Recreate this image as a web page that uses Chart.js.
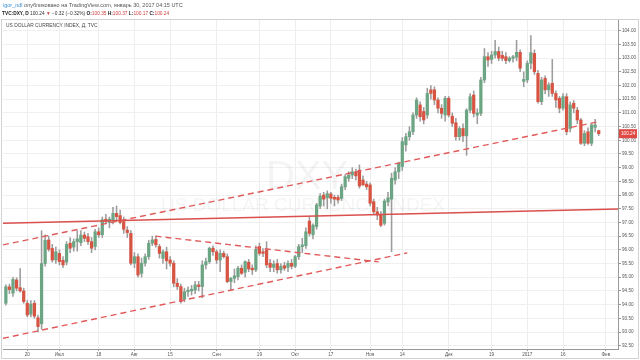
<!DOCTYPE html>
<html>
<head>
<meta charset="utf-8">
<script src="https://cdn.jsdelivr.net/npm/chart.js@4.4.1/dist/chart.umd.min.js"></script>
<style>
html,body{margin:0;padding:0;background:#fff;}
canvas{display:block;}
</style>
</head>
<body>
<canvas id="c" width="640" height="360"></canvas>
<script>
// ---- DATA (daily candles, index 0 = 10 Jun 2016 ... index 166 = 30 Jan 2017) ----
const opens = [94.05,94.65,94.42,94.90,94.62,94.50,94.05,93.65,94.05,93.52,
93.30,95.50,96.36,96.05,95.63,95.87,95.62,95.55,96.24,96.10,
96.30,96.26,96.54,96.48,96.30,96.12,96.66,96.55,97.12,97.00,
97.10,97.33,97.25,97.03,96.72,96.60,95.51,95.75,95.14,95.51,
95.75,96.24,96.38,96.12,95.69,95.93,95.63,95.51,94.78,94.66,
94.20,94.47,94.50,94.53,94.72,94.66,95.45,95.57,96.06,95.93,
95.63,95.87,95.75,94.84,94.96,95.02,95.33,95.18,95.55,95.33,
95.27,96.12,95.93,95.99,95.51,95.36,95.50,95.27,95.42,95.36,
95.51,95.40,95.75,96.12,96.15,97.05,96.55,96.85,97.60,98.00,
97.90,98.04,97.92,97.92,97.88,98.30,98.61,98.73,98.85,98.91,
98.55,98.40,98.37,97.76,97.39,97.27,96.97,97.75,97.85,98.55,
98.85,99.04,99.83,100.13,100.31,100.92,101.29,101.05,100.92,101.84,
101.84,101.47,101.17,100.92,101.53,100.88,100.64,100.13,100.43,100.16,
101.10,101.65,100.92,100.98,102.20,103.05,102.95,103.11,103.24,103.10,
103.05,102.91,102.99,103.03,103.21,102.15,102.20,102.81,103.17,102.44,
101.41,102.26,101.84,102.08,101.71,101.53,101.17,101.59,100.43,101.35,
101.10,100.74,99.89,100.31,99.89,100.47,100.35];
const highs = [94.72,94.75,95.00,94.98,95.32,94.60,94.15,94.15,94.15,93.62,
96.70,96.55,96.50,96.20,96.10,96.00,95.75,96.30,96.45,96.40,
96.70,96.70,96.65,96.60,96.45,96.75,96.80,97.20,97.30,97.20,
97.55,97.60,97.45,97.20,96.85,96.70,95.90,95.85,95.70,95.85,
96.35,96.50,96.50,96.20,96.00,96.10,95.75,95.60,94.95,94.75,
94.60,94.65,94.70,94.85,94.85,95.60,95.70,96.10,96.15,96.00,
96.00,95.95,95.85,95.00,95.30,95.40,95.45,95.60,95.65,95.45,
96.15,96.25,96.05,96.30,95.65,95.60,95.65,95.50,95.55,95.60,
95.65,95.80,96.20,96.42,96.80,97.20,96.95,97.70,98.05,98.10,
98.15,98.10,98.00,98.00,98.40,98.75,98.85,99.00,98.95,99.10,
98.70,98.50,98.45,97.85,97.55,97.40,97.85,98.10,98.80,99.00,
99.20,100.10,100.25,100.50,101.00,101.55,101.40,101.20,101.90,102.00,
101.95,101.55,101.30,101.60,101.60,101.00,100.80,100.50,100.60,101.15,
101.70,101.80,101.15,102.30,103.35,103.20,103.25,103.65,103.40,103.25,
103.20,103.05,103.10,103.65,103.30,102.50,102.90,103.82,103.30,102.55,
102.30,102.35,102.10,102.95,101.80,101.60,101.70,101.70,101.40,101.45,
101.20,100.80,100.35,100.45,100.60,100.76,100.37];
const lows = [93.98,94.40,94.30,94.50,94.45,94.05,93.55,93.55,93.50,93.00,
93.10,95.40,95.95,95.55,95.50,95.45,95.35,95.45,95.90,95.95,
95.95,96.15,96.30,96.20,95.90,96.00,96.45,96.45,96.95,96.80,
96.95,97.10,96.95,96.60,96.45,95.45,95.35,95.00,95.00,95.40,
95.65,96.15,96.10,95.70,95.50,95.30,95.40,94.65,94.55,94.05,
94.10,94.30,94.35,94.40,94.50,94.25,95.30,95.50,95.80,95.50,
95.20,95.70,94.80,94.55,94.80,94.90,95.10,95.00,95.20,95.10,
95.20,95.80,95.75,95.35,95.20,95.20,95.15,95.15,95.25,95.20,
95.30,95.35,95.65,95.90,96.05,96.50,96.40,96.75,97.50,97.60,
97.50,97.70,97.60,97.70,97.80,98.20,98.50,98.60,98.55,98.25,
98.35,98.20,97.60,97.30,97.10,96.85,96.90,97.60,95.93,98.40,
98.60,98.90,99.60,100.00,100.20,100.80,100.70,100.60,100.80,101.50,
101.30,101.00,100.80,100.70,100.85,100.50,100.00,100.00,99.95,99.45,
101.00,100.85,100.60,100.90,102.10,102.70,102.80,103.00,102.90,102.90,
102.80,102.85,102.85,102.90,102.50,101.95,102.10,102.60,102.40,101.35,
101.30,101.70,101.60,101.60,101.20,101.00,101.10,100.20,100.30,101.00,
100.60,99.85,99.80,99.85,99.80,100.30,100.17];
const closes = [94.65,94.55,94.92,94.60,94.50,94.11,93.62,94.02,93.58,93.20,
95.50,96.35,96.02,95.63,95.93,95.57,95.45,96.20,96.06,96.30,
96.40,96.54,96.42,96.30,96.06,96.66,96.55,97.10,97.03,97.12,
97.33,97.21,97.00,96.75,96.63,95.51,95.75,95.08,95.51,95.75,
96.24,96.36,96.18,95.87,95.93,95.60,95.51,94.78,94.66,94.11,
94.47,94.53,94.56,94.72,94.66,95.45,95.57,96.06,95.93,95.63,
95.87,95.75,94.84,94.96,95.05,95.33,95.14,95.57,95.30,95.27,
96.02,95.87,95.87,95.45,95.36,95.48,95.27,95.40,95.33,95.51,
95.40,95.75,96.12,96.18,96.66,96.60,96.90,97.64,97.96,97.85,
98.05,97.88,97.85,97.82,98.30,98.67,98.73,98.85,98.70,98.33,
98.37,98.30,97.70,97.39,97.27,96.90,97.78,97.90,98.61,98.85,
99.16,99.95,100.13,100.31,100.92,101.47,100.86,100.74,101.71,101.71,
101.47,101.17,100.98,101.53,100.92,100.62,100.13,100.43,100.16,101.10,
101.59,100.98,101.00,102.20,103.05,102.93,103.11,103.24,103.00,102.99,
102.91,103.00,103.05,103.21,102.63,102.22,102.81,103.20,102.50,101.41,
102.20,101.84,102.02,101.71,101.47,101.17,101.59,100.31,101.29,101.17,
100.74,99.89,100.25,99.89,100.56,100.56,100.24];

// trend lines: [barIndex, value]
const solidLine     = [[-0.8, 96.97], [171.4, 97.49]];
const upperChannel  = [[-0.8, 96.18], [166.0, 100.68]];
const lowerChannel  = [[-0.8, 92.77], [112.4, 95.89]];
const wedgeTop      = [[41.9, 96.50], [104.4, 95.56]];

// axis ticks
const xTickIdx    = [6, 15, 26, 36, 46, 59, 71, 81, 91, 102, 111, 124, 136, 146, 156, 168];
const xTickLabels = ['20','Июл','18','Авг','15','Сен','19','Окт','17','Ноя','14','Дек','19','2017','16','Фев'];
const yTickValues = [92.5,93,93.5,94,94.5,95,95.5,96,96.5,97,97.5,98,98.5,99,99.5,100,100.5,101,101.5,102,102.5,103,103.5,104];
const lastPrice = 100.24;

// ---- CHART ----
const FONT = '"Liberation Sans", Arial, sans-serif';
const UP = '#6ba583', DOWN = '#d75442', WICK = '#9c9c9c', LINE = '#e05a5a';
const bars = opens.map((_, i) => i);
const wickData = bars.map(i => ({x: i, y: [lows[i], highs[i]]}));
const bodyData = bars.map(i => ({x: i, y: [opens[i], closes[i]]}));
const bodyColors = bars.map(i => closes[i] >= opens[i] ? UP : DOWN);
const toPts = arr => arr.map(([x, y]) => ({x, y}));

const decor = {
  id: 'decor',
  beforeDraw(chart) {
    const c = chart.ctx;
    c.save(); c.fillStyle = '#fff'; c.fillRect(0, 0, chart.width, chart.height); c.restore();
  },
  beforeDatasetsDraw(chart) {
    const c = chart.ctx, a = chart.chartArea;
    c.save();
    c.beginPath(); c.rect(a.left, a.top, a.right - a.left, a.bottom - a.top); c.clip();
    c.fillStyle = 'rgba(0,0,0,0.045)';
    c.textAlign = 'center'; c.textBaseline = 'middle';
    c.font = '40px ' + FONT;
    c.fillText('DXY', 307, 178);
    c.font = '19px ' + FONT;
    c.fillText('US DOLLAR CURRENCY INDEX', 303, 206);
    c.restore();
  },
  afterDraw(chart) {
    const c = chart.ctx, a = chart.chartArea, ys = chart.scales.y;
    c.save();
    // panel frame
    c.strokeStyle = '#d2d2d2'; c.lineWidth = 1;
    c.strokeRect(1.5, 19.5, 637, 339);
    // header lines
    const runs = (list, x, y, size) => {
      c.textBaseline = 'alphabetic'; c.textAlign = 'left';
      list.forEach(r => {
        c.font = (r.b ? 'bold ' : '') + size + 'px ' + FONT;
        c.fillStyle = r.c;
        c.fillText(r.t, x, y);
        x += c.measureText(r.t).width;
      });
    };
    const RED = '#d23c3c', DK = '#333';
    runs([{t: 'igor_ndl', c: '#3a8fd2'}, {t: ' опубликовано на TradingView.com, январь 30, 2017 04:15 UTC', c: '#555'}], 3, 6.5, 5.5);
    runs([{t: 'TVC:DXY, D', c: '#222', b: true}, {t: ' 100.24 ', c: DK}, {t: '▼', c: RED}, {t: ' −0.32 (−0.32%) ', c: DK},
          {t: 'O:', c: '#222', b: true}, {t: '100.35', c: RED}, {t: ' H:', c: '#222', b: true}, {t: '100.37', c: RED},
          {t: ' L:', c: '#222', b: true}, {t: '100.17', c: RED}, {t: ' C:', c: '#222', b: true}, {t: '100.24', c: RED}], 2, 15.3, 4.8);
    // chart title
    c.font = '4.9px ' + FONT; c.fillStyle = '#444';
    c.fillText('US DOLLAR CURRENCY INDEX, Д, TVC', 6, 27);
    // last price label
    const py = ys.getPixelForValue(lastPrice);
    c.fillStyle = '#e04a45';
    c.fillRect(a.right + 1, py - 4.5, 18, 9);
    c.fillStyle = '#fff'; c.font = '4.7px ' + FONT; c.textBaseline = 'middle';
    c.fillText(lastPrice.toFixed(2), a.right + 3, py + 0.3);
    c.restore();
  }
};

new Chart(document.getElementById('c'), {
  type: 'bar',
  data: {
    datasets: [
      {type: 'line', data: toPts(solidLine), borderColor: '#d9504c', borderWidth: 1.5, pointRadius: 0, fill: false, order: 0},
      {type: 'line', data: toPts(upperChannel), borderColor: LINE, borderWidth: 1.4, borderDash: [6, 4], pointRadius: 0, fill: false, order: 0},
      {type: 'line', data: toPts(lowerChannel), borderColor: LINE, borderWidth: 1.4, borderDash: [6, 4], pointRadius: 0, fill: false, order: 0},
      {type: 'line', data: toPts(wedgeTop), borderColor: LINE, borderWidth: 1.4, borderDash: [6, 4], pointRadius: 0, fill: false, order: 0},
      {data: bodyData, backgroundColor: bodyColors, borderWidth: 0, barThickness: 2.6, minBarLength: 0.8, grouped: false, order: 1},
      {data: wickData, backgroundColor: WICK, borderWidth: 0, barThickness: 0.9, grouped: false, order: 2}
    ]
  },
  options: {
    responsive: false,
    animation: false,
    devicePixelRatio: 1,
    layout: {padding: {top: 20, left: 3, right: 2, bottom: 2}},
    plugins: {legend: {display: false}, tooltip: {enabled: false}},
    scales: {
      x: {
        type: 'linear', min: -0.8, max: 171.4, offset: false,
        grid: {offset: false, color: '#eeeeee', tickLength: 2, tickColor: '#999'},
        border: {color: '#999'},
        ticks: {autoSkip: false, maxRotation: 0, padding: 1, color: '#555', font: {size: 4.6, family: FONT},
                callback: (v, i) => xTickLabels[i]},
        afterBuildTicks: s => { s.ticks = xTickIdx.map(v => ({value: v})); },
        afterFit: s => { s.height = 9; }
      },
      y: {
        type: 'linear', position: 'right', min: 92.38, max: 104.39,
        grid: {color: '#f0f0f0', tickLength: 3, tickColor: '#999'},
        border: {color: '#999'},
        ticks: {padding: 1, color: '#555', font: {size: 4.6, family: FONT}, callback: v => Number(v).toFixed(2)},
        afterBuildTicks: s => { s.ticks = yTickValues.map(v => ({value: v})); },
        afterFit: s => { s.width = 20; }
      }
    }
  },
  plugins: [decor]
});
</script>
</body>
</html>
